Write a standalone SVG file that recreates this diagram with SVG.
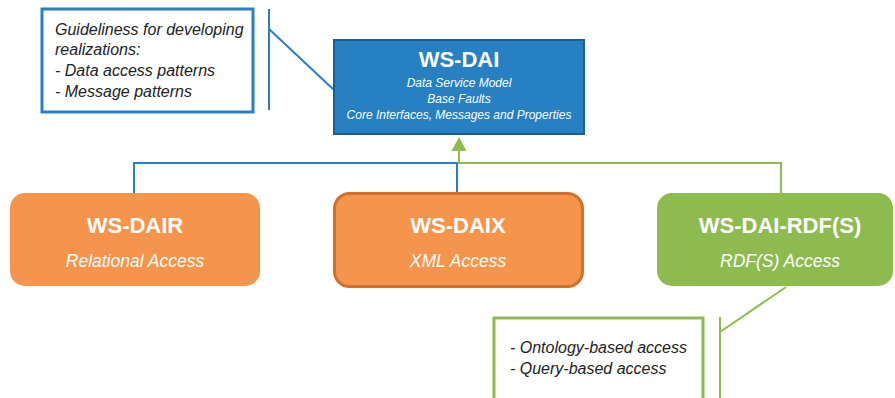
<svg xmlns="http://www.w3.org/2000/svg" width="895" height="398" viewBox="0 0 895 398">
<style>
.note{fill:#fff;stroke-width:3}
.nt{font-family:"Liberation Sans",Arial,sans-serif;font-style:italic;font-size:16px;fill:#222}
.title{font-family:"Liberation Sans",Arial,sans-serif;font-weight:bold;font-size:22px;fill:#fff;text-anchor:middle}
.sub{font-family:"Liberation Sans",Arial,sans-serif;font-style:italic;font-size:17.5px;fill:#fff;text-anchor:middle}
.small{font-family:"Liberation Sans",Arial,sans-serif;font-style:italic;font-size:12px;fill:#fff;text-anchor:middle}
.blue{stroke:#2680C2;fill:none;stroke-width:2}
.green{stroke:#8DBB50;fill:none;stroke-width:2}
</style>
<g id="connectors">
<path class="blue" d="M134,193 V163 H457 V193"/>
<path class="green" d="M781,193 V163 H459 V150"/>
<path d="M451.5,151 L459,137 L466.5,151 Z" fill="#8DBB50"/>
<path class="blue" d="M269,9 V110 M269,29 L334,90" stroke-width="3"/>
<path class="green" d="M720,317 V398 M720,332 L786,287" stroke-width="3"/>
</g>
<g id="note1">
<rect class="note" x="42" y="9" width="211" height="103" stroke="#2680C2"/>
<text class="nt" x="55" y="35">Guideliness for developing</text>
<text class="nt" x="55" y="55">realizations:</text>
<text class="nt" x="55" y="76">- Data access patterns</text>
<text class="nt" x="55" y="97">- Message patterns</text>
</g>
<g id="ws-dai">
<rect x="334" y="40" width="250" height="94" fill="#2680C2" stroke="#1B5E92" stroke-width="2"/>
<text class="title" x="459" y="67">WS-DAI</text>
<text class="small" x="459" y="87">Data Service Model</text>
<text class="small" x="459" y="103">Base Faults</text>
<text class="small" x="459" y="119">Core Interfaces, Messages and Properties</text>
</g>
<g id="ws-dair">
<rect x="10" y="193" width="250" height="93" rx="15" fill="#F5944A"/>
<text class="title" x="135" y="233">WS-DAIR</text>
<text class="sub" x="135" y="267">Relational Access</text>
</g>
<g id="ws-daix">
<rect x="334.5" y="193.5" width="248" height="93" rx="15" fill="#F5944A" stroke="#D0712B" stroke-width="3"/>
<text class="title" x="458" y="233">WS-DAIX</text>
<text class="sub" x="458" y="267">XML Access</text>
</g>
<g id="ws-dai-rdfs">
<rect x="657" y="193" width="236" height="93" rx="15" fill="#8DBB50"/>
<text class="title" x="780" y="233">WS-DAI-RDF(S)</text>
<text class="sub" x="780" y="267">RDF(S) Access</text>
</g>
<g id="note2">
<rect class="note" x="494" y="318" width="209" height="100" stroke="#8DBB50"/>
<text class="nt" x="510" y="353">- Ontology-based access</text>
<text class="nt" x="510" y="374">- Query-based access</text>
</g>
</svg>
